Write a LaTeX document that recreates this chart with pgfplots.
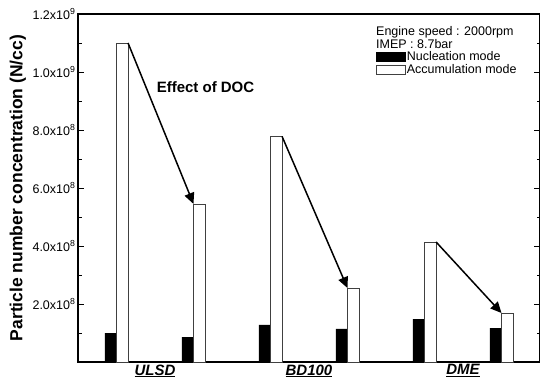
\documentclass[border=0pt]{standalone}
\usepackage{pgfplots}
\pgfplotsset{compat=1.18}
\usepackage{fontspec}
\setmainfont{Liberation Sans}
\usetikzlibrary{arrows.meta}
\begin{document}
\begin{tikzpicture}[x=1pt,y=1pt]
\begin{axis}[
  at={(78pt,22pt)}, anchor=south west,
  scale only axis, width=462pt, height=348pt,
  xmin=-0.5, xmax=5.5, ymin=0, ymax=12,
  axis line style={line width=1.1pt},
  xtick={0.5,2.5,4.5},
  xticklabels={\underline{ULSD},\underline{BD100},\underline{DME}},
  x tick style={draw=none},
  xticklabel style={font=\fontsize{15}{16}\selectfont\bfseries\itshape, yshift=1pt},
  ytick={2,4,6,8,10,12},
  yticklabels={2.0x10\textsuperscript{8},4.0x10\textsuperscript{8},6.0x10\textsuperscript{8},8.0x10\textsuperscript{8},1.0x10\textsuperscript{9},1.2x10\textsuperscript{9}},
  minor ytick={1,3,5,7,9,11},
  tick align=inside,
  major tick length=6pt, minor tick length=3.5pt,
  y tick style={line width=0.8pt, black},
  yticklabel style={font=\fontsize{12.5}{14}\selectfont, xshift=1pt},
  ylabel={\textbf{Particle number concentration (N/cc)}},
  ylabel style={font=\fontsize{17.5}{19}\selectfont, at={(axis description cs:-0.13,0.5)}, anchor=center},
  legend style={draw=none, fill=none, at={(rel axis cs:0.645,0.897)}, anchor=north west,
    inner sep=0pt, row sep=0.5pt, nodes={inner sep=1pt, font=\fontsize{12.5}{13}\selectfont}},
  legend cell align=left,
  legend image code/.code={\draw[#1] (0pt,-4.5pt) rectangle (29pt,4.5pt);},
]
\addplot[ybar, bar width=0.15, bar shift=-0.075, fill=black, draw=black, line width=0.5pt]
  coordinates {(0,1.0) (1,0.86) (2,1.28) (3,1.14) (4,1.48) (5,1.17)};
\addlegendentry{Nucleation mode}
\addplot[ybar, bar width=0.15, bar shift=0.075, fill=white, draw=black!75, line width=0.6pt]
  coordinates {(0,11.0) (1,5.45) (2,7.78) (3,2.55) (4,4.14) (5,1.69)};
\addlegendentry{Accumulation mode}

\draw[line width=1.5pt, -{Triangle[length=11pt,width=10pt]}] (axis cs:0.15,11.0) -- (axis cs:1.0,5.45);
\draw[line width=1.5pt, -{Triangle[length=11pt,width=10pt]}] (axis cs:2.15,7.78) -- (axis cs:3.0,2.55);
\draw[line width=1.5pt, -{Triangle[length=11pt,width=10pt]}] (axis cs:4.15,4.14) -- (axis cs:5.0,1.69);

\node[font=\fontsize{15}{16}\selectfont\bfseries] at (axis cs:1.156,9.48) {Effect of DOC};
\node[anchor=west, inner sep=0pt, font=\fontsize{12.5}{13}\selectfont] at (rel axis cs:0.645,0.948) {Engine speed : 2000rpm};
\node[anchor=west, inner sep=0pt, font=\fontsize{12.5}{13}\selectfont] at (rel axis cs:0.645,0.914) {IMEP : 8.7bar};
\end{axis}
\pgfresetboundingbox
\useasboundingbox (0,0) rectangle (540,384);
\end{tikzpicture}
\end{document}
